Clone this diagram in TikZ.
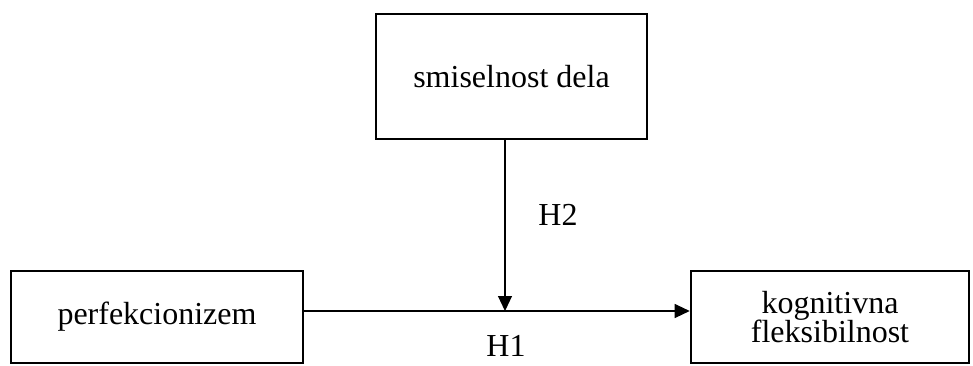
\documentclass[tikz,border=0pt]{standalone}
\usepackage{fontspec}
\setmainfont{Liberation Serif}
\usetikzlibrary{arrows.meta}
\tikzset{
  varbox/.style={draw=black, line width=2.6pt, fill=white, inner sep=0pt, align=center,
    font=\fontsize{32}{29.5}\selectfont},
  conn/.style={line width=1.1pt, -{Triangle[length=15pt,width=14pt]}},
  hlabel/.style={font=\fontsize{32}{29}\selectfont, inner sep=0pt}
}
\begin{document}
\begin{tikzpicture}[x=1pt,y=-1pt]
\useasboundingbox (0,0) rectangle (973,365);
\node[varbox, minimum width=271pt, minimum height=125pt] (top) at (511.5,76.5) {smiselnost dela};
\node[varbox, minimum width=292pt, minimum height=92pt] (left) at (157,317) {perfekcionizem};
\node[varbox, minimum width=278pt, minimum height=92pt] (right) at (830,317) {kognitivna\\fleksibilnost};
\coordinate (j) at (505,311);
\draw[conn] (left.east |- j) -- (right.west |- j);
\draw[conn] (top.south -| j) -- (j);
\node[hlabel] (h2) at (558,214.5) {H2};
\node[hlabel, anchor=base] (h1) at (506,356) {H1};
\end{tikzpicture}
\end{document}
